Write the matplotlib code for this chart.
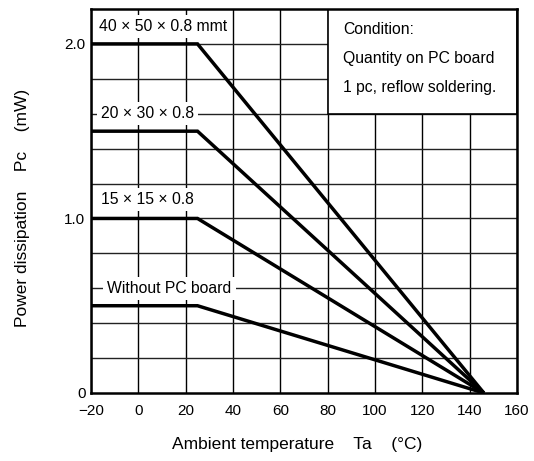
import matplotlib
matplotlib.use("Agg")
import matplotlib.pyplot as plt
from matplotlib.patches import Rectangle

plt.rcParams['font.family'] = ['Liberation Sans', 'DejaVu Sans']

# Data
temps = [-20, 25, 146]
series_names = ["40 \u00d7 50 \u00d7 0.8 mmt", "20 \u00d7 30 \u00d7 0.8",
                "15 \u00d7 15 \u00d7 0.8", "Without PC board"]
series_pc = [2.0, 1.5, 1.0, 0.5]
x_ticks = [-20, 0, 20, 40, 60, 80, 100, 120, 140, 160]
y_ticks = [0, 1.0, 2.0]
y_ticklabels = ["0", "1.0", "2.0"]
condition_lines = ["Condition:", "Quantity on PC board", "1 pc, reflow soldering."]

fig = plt.figure(figsize=(5.34, 4.61), dpi=100)
ax = fig.add_axes([91/534, 1-393/461, (517-91)/534, (393-9)/461])

ax.set_xlim(-20, 160)
ax.set_ylim(0, 2.2)

# grid
for xv in range(-20, 161, 20):
    ax.axvline(xv, color='black', lw=1.0, zorder=1)
for i in range(1, 11):
    ax.axhline(i * 0.2, color='#222222', lw=1.0, zorder=1)

# data lines
for p in series_pc:
    ax.plot(temps, [p, p, 0], color='black', lw=2.5, zorder=4,
            solid_capstyle='butt', solid_joinstyle='miter')

# condition box
ax.add_patch(Rectangle((80, 1.6), 80, 0.6, facecolor='white', edgecolor='black',
                       lw=1.2, zorder=2))
for k, line in enumerate(condition_lines):
    ax.text(86.5, 2.085 - k * 0.166, line, fontsize=11.3, va='center', ha='left', zorder=3)

# series labels
label_pos = [(-16.8, 2.10), (-15.8, 1.60), (-15.8, 1.11), (-13.2, 0.60)]
for name, (lx, ly) in zip(series_names, label_pos):
    ax.text(lx, ly, name, fontsize=11.3, va='center', ha='left', zorder=3,
            bbox=dict(facecolor='white', edgecolor='none', pad=3.0))

ax.set_xticks(x_ticks)
ax.set_yticks(y_ticks)
ax.set_yticklabels(y_ticklabels)
ax.tick_params(length=0, labelsize=11)
ax.tick_params(axis='x', pad=8)
ax.tick_params(axis='y', pad=4)
for s in ax.spines.values():
    s.set_linewidth(1.8)
    s.set_zorder(5)

fig.text(23/534, 1-208/461, "Power dissipation    Pc    (mW)", rotation=90,
         fontsize=12.5, ha='center', va='center')
fig.text(297/534, 1-444/461, "Ambient temperature    Ta    (\u00b0C)",
         fontsize=12.5, ha='center', va='center')

fig.savefig("out.png", dpi=100)
